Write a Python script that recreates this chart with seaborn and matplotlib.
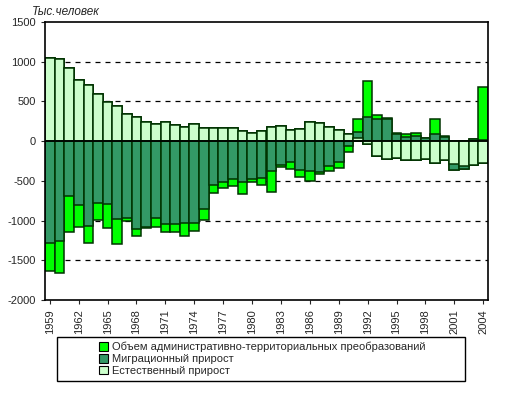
import numpy as np
import pandas as pd
import matplotlib
matplotlib.use('Agg')
import matplotlib.pyplot as plt
from matplotlib.patches import Rectangle, Patch
import seaborn as sns

# ==========================================
# DATA (thousand people)
# ==========================================
years = list(range(1959, 2005))

natural = [1048, 1036, 922, 771, 709, 595, 495, 444, 344, 306,
           243, 218, 243, 205, 180, 218, 168, 168, 168, 168,
           130, 105, 130, 180, 193, 143, 155, 243, 231, 180,
           143, 92, 42, -42, -193, -231, -218, -243, -243, -222,
           -272, -243, -283, -312, -300, -276]

migration = [-1287, -1258, -692, -805, -1069, -776, -797, -977, -969, -1103,
             -1075, -973, -1048, -1044, -1036, -1031, -860, -553, -520, -482,
             -520, -482, -470, -382, -300, -268, -369, -377, -386, -319,
             -264, -63, 67, 298, 285, 280, 92, 46, 59, 34,
             92, 50, -75, -34, 25, 12]

admin = [-348, -398, -449, -272, -210, -218, -293, -314, -42, -92,
         -15, -105, -92, -96, -159, -97, -130, -97, -67, -80,
         -142, -29, -84, -260, -20, -84, -80, -122, -25, -54,
         -71, -71, 176, 453, 46, 8, 5, 38, 38, 5,
         193, 10, 0, 0, 5, 675]

labels = ['Объем административно-территориальных преобразований',
          'Миграционный прирост',
          'Естественный прирост']

C_ADMIN = '#00FF00'
C_MIG = '#339966'
C_NAT = '#CCFFCC'
EDGE = '#003300'

# ==========================================
# STACKS (positive up, negative down)
# ==========================================
df = pd.DataFrame({'year': [str(y) for y in years],
                   'nat': natural, 'mig': migration, 'adm': admin})
pos = df[['nat', 'mig', 'adm']].clip(lower=0).cumsum(axis=1)
neg = df[['nat', 'mig', 'adm']].clip(upper=0).cumsum(axis=1)

sns.set_style('white')
plt.rcParams['font.family'] = ['Liberation Sans', 'DejaVu Sans']
plt.rcParams['axes.unicode_minus'] = False

fig = plt.figure(figsize=(5.12, 3.93), dpi=100)
ax = fig.add_axes([45 / 512, 1 - 300 / 393, 443 / 512, 278 / 393])

# outer layer first, inner layers drawn over it
for col, color in [('adm', C_ADMIN), ('mig', C_MIG), ('nat', C_NAT)]:
    for side in (pos, neg):
        sns.barplot(x=df['year'], y=side[col], color=color, saturation=1,
                    width=1.0, edgecolor=EDGE, linewidth=1.1,
                    errorbar=None, ax=ax, zorder=2)

ax.axhline(0, color='black', lw=1.2, zorder=3)

ax.set_ylim(-2000, 1500)
ax.set_xlim(-0.5, len(years) - 0.5)
ax.set_yticks(range(-2000, 1501, 500))
ax.tick_params(axis='y', labelsize=8, length=3, direction='out', left=True)
ax.set_xticks(range(0, len(years), 3))
ax.set_xticklabels([str(y) for y in years[::3]], rotation=90, fontsize=8)
ax.tick_params(axis='x', length=3, direction='out', bottom=True)
ax.set_xlabel('')
ax.set_ylabel('')

for v in [-1500, -1000, -500, 500, 1000]:
    ax.axhline(v, color='black', lw=0.9, linestyle=(0, (4, 4)), zorder=1)

for s in ax.spines.values():
    s.set_color('black')
    s.set_linewidth(1.2)

fig.text(32 / 512, 1 - 12 / 393, 'Тыс.человек', fontsize=8.5,
         style='italic', va='center', ha='left')

# ==========================================
# LEGEND
# ==========================================
handles = [Patch(facecolor=C_ADMIN, edgecolor='black', lw=0.8),
           Patch(facecolor=C_MIG, edgecolor='black', lw=0.8),
           Patch(facecolor=C_NAT, edgecolor='black', lw=0.8)]
fig.legend(handles, labels, loc='center', bbox_to_anchor=(0.512, 1 - 359 / 393),
           frameon=False, fontsize=8, handlelength=0.8, handleheight=0.8,
           handletextpad=0.3, labelspacing=0.15, borderpad=0)
fig.patches.append(Rectangle((57 / 512, 1 - 381 / 393), 408 / 512, 44 / 393,
                             transform=fig.transFigure, fill=False,
                             edgecolor='black', lw=1.0))

plt.savefig('out.png', dpi=100)
